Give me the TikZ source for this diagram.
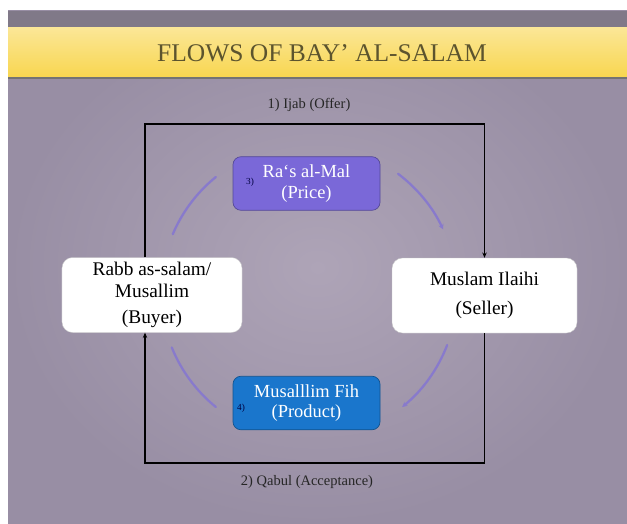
\documentclass[tikz,border=0pt]{standalone}
\usepackage{fontspec}
\setmainfont{Liberation Serif}
\usetikzlibrary{positioning,arrows.meta}

\definecolor{slidebg}{RGB}{174,164,183}
\definecolor{slidedark}{RGB}{152,142,164}
\definecolor{slidetop}{RGB}{128,121,136}
\definecolor{bandyellow}{RGB}{248,214,80}
\definecolor{titleink}{RGB}{92,84,46}
\definecolor{pricefill}{RGB}{122,104,216}
\definecolor{productfill}{RGB}{26,118,204}
\definecolor{ringline}{RGB}{136,122,204}

\tikzset{
  party/.style={draw=gray!45, fill=white, rounded corners=12pt,
    minimum width=72mm, minimum height=30mm, align=center,
    font=\fontsize{22}{25}\selectfont},
  goods/.style={rounded corners=9pt, line width=0.8pt,
    minimum width=58.8mm, minimum height=21.4mm, align=center,
    text=white, font=\fontsize{21}{23}\selectfont},
  deal/.style={-{Stealth[length=6pt,width=5pt]}, line width=1.6pt, black},
  dealtext/.style={font=\fontsize{16.5}{18}\selectfont, text=black!85},
  ring/.style={line width=2.6pt, ringline, line cap=round},
  numlabel/.style={font=\fontsize{10.5}{11}\selectfont, text=black!75!blue, inner sep=1pt}
}

\begin{document}
\begin{tikzpicture}[x=0.4mm,y=-0.4mm,>=stealth]
  \useasboundingbox (0,0) rectangle (627,524);

  % Slide
  \fill[white] (0,0) rectangle (627,524);
  \shade[inner color=slidebg, outer color=slidedark] (8,11) rectangle (627,524);
  \fill[slidetop] (8,11) rectangle (627,28);
  \shade[top color=bandyellow!60!white, bottom color=bandyellow] (8,28) rectangle (627,77);
  \draw[black!55, line width=1.5pt] (8,78) -- (627,78);

  % Title
  \node[font=\fontsize{29}{32}\selectfont, text=titleink] (title) at (322,53) {FLOWS OF BAY’ AL-SALAM};

  % Parties and goods
  \node[party] (buyer) at (152,295) {Rabb as-salam/\\Musallim\\[4pt](Buyer)};
  \node[party, minimum width=74mm] (seller) at (484.5,295.5) {Muslam Ilaihi\\[8pt](Seller)};
  \node[goods, fill=pricefill, draw=pricefill!70!black] (price) at (306.5,183.5) {Ra‘s al-Mal\\(Price)};
  \node[goods, fill=productfill, draw=productfill!70!black] (product) at (306.5,403) {Musalllim Fih\\(Product)};
  \node[numlabel] (pricenum) at (250,182) {3)};
  \node[numlabel] (productnum) at (241,408) {4)};

  % Offer and acceptance
  \coordinate (ijab) at (145,124);
  \coordinate (qabul) at (145,463);
  \draw[deal] (buyer.north -| ijab) -- (ijab) -- (ijab -| seller.north) -- (seller.north);
  \draw[deal] (seller.south) -- (qabul -| seller.south) -- (qabul) -- (buyer.south -| qabul);
  \node[dealtext] (offer) at (309,105) {1) Ijab (Offer)};
  \node[dealtext] (acceptance) at (307,482) {2) Qabul (Acceptance)};

  % Ring of exchange
  \coordinate (hub) at (309,292);
  \draw[ring] ([shift={(-157:148)}]hub) arc[start angle=-157, end angle=-129, radius=148];
  \draw[ring, -{Stealth[length=6pt,width=6pt]}] ([shift={(-53:148)}]hub) arc[start angle=-53, end angle=-25, radius=148];
  \draw[ring, -{Stealth[length=6pt,width=6pt]}] ([shift={(21:148)}]hub) arc[start angle=21, end angle=51, radius=148];
  \draw[ring] ([shift={(158:148)}]hub) arc[start angle=158, end angle=129, radius=148];
\end{tikzpicture}
\end{document}
